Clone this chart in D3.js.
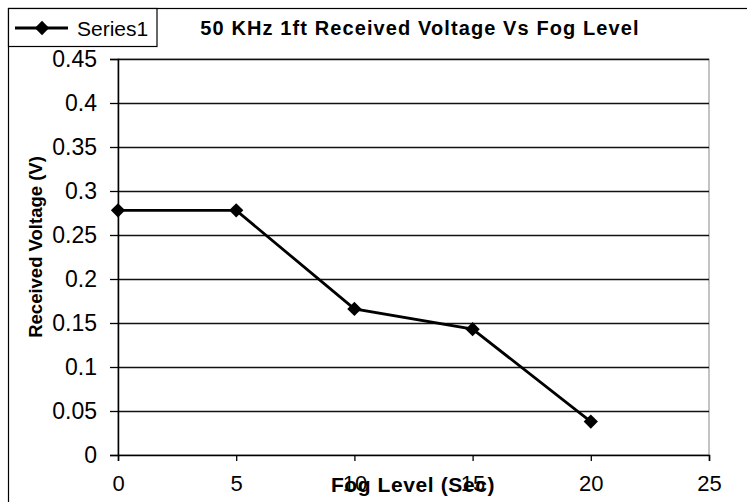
<!DOCTYPE html>
<html>
<head>
<meta charset="utf-8">
<script src="https://cdn.jsdelivr.net/npm/d3@7"></script>
<style>
  html, body { margin: 0; padding: 0; background: #fff; }
  svg { display: block; font-family: "Liberation Sans", Arial, sans-serif; }
</style>
</head>
<body>
<svg id="chart" width="747" height="502"></svg>
<script>
// ---- data ----
const fogLevels = [0, 5, 10, 15, 20];
const voltages = [0.278, 0.278, 0.166, 0.143, 0.038];
const xTicks = [0, 5, 10, 15, 20, 25];
const yTicks = [0, 0.05, 0.1, 0.15, 0.2, 0.25, 0.3, 0.35, 0.4, 0.45];
const yTickLabels = ["0", "0.05", "0.1", "0.15", "0.2", "0.25", "0.3", "0.35", "0.4", "0.45"];
const seriesName = "Series1";
const chartTitle = "50 KHz 1ft Received Voltage Vs Fog Level";
const xTitle = "Fog Level (Sec)";
const yTitle = "Received Voltage (V)";

const svg = d3.select("#chart");
const plot = { left: 118, right: 709, top: 59, bottom: 455 };

const x = d3.scaleLinear().domain([0, 25]).range([plot.left, plot.right]);
const y = d3.scaleLinear().domain([0, 0.45]).range([plot.bottom, plot.top]);

// outer chart frame (extends past the picture on right/bottom)
svg.append("rect")
  .attr("x", 8.5).attr("y", 8.5).attr("width", 900).attr("height", 700)
  .attr("fill", "none").attr("stroke", "#000").attr("stroke-width", 1.2);

// plot area border
svg.append("rect")
  .attr("x", plot.left).attr("y", plot.top)
  .attr("width", plot.right - plot.left).attr("height", plot.bottom - plot.top)
  .attr("fill", "none").attr("stroke", "#888").attr("stroke-width", 1);

// gridlines
svg.append("g")
  .attr("transform", `translate(${plot.left},0)`)
  .call(d3.axisLeft(y).tickValues(yTicks.slice(1)).tickSize(-(plot.right - plot.left)).tickFormat(""))
  .call(g => g.select(".domain").remove())
  .call(g => g.selectAll("line").attr("stroke", "#111").attr("stroke-width", 1.5));

// y axis
const yAxis = svg.append("g")
  .attr("transform", `translate(${plot.left},0)`)
  .call(d3.axisLeft(y).tickValues(yTicks).tickSize(8).tickPadding(13)
    .tickFormat((d, i) => yTickLabels[i]));
yAxis.select(".domain").attr("stroke", "#000").attr("stroke-width", 1.5);
yAxis.selectAll("line").attr("stroke", "#000").attr("stroke-width", 1.3);
yAxis.selectAll("text").attr("font-size", 23).attr("fill", "#000")
  .attr("font-family", "Liberation Sans, Arial, sans-serif");

// x axis
const xAxis = svg.append("g")
  .attr("transform", `translate(0,${plot.bottom})`)
  .call(d3.axisBottom(x).tickValues(xTicks).tickSize(6).tickPadding(14).tickFormat(d3.format("d")));
xAxis.select(".domain").attr("stroke", "#000").attr("stroke-width", 1.5);
xAxis.selectAll("line").attr("stroke", "#000").attr("stroke-width", 1.3);
xAxis.selectAll("text").attr("font-size", 22).attr("fill", "#000")
  .attr("font-family", "Liberation Sans, Arial, sans-serif");

// data line
const pts = fogLevels.map((f, i) => [f, voltages[i]]);
svg.append("path")
  .datum(pts)
  .attr("fill", "none").attr("stroke", "#000").attr("stroke-width", 2.8)
  .attr("d", d3.line().x(d => x(d[0])).y(d => y(d[1])));

const diamond = d3.symbol().type(d3.symbolDiamond2).size(130);
svg.append("g").selectAll("path")
  .data(pts).join("path")
  .attr("transform", d => `translate(${x(d[0])},${y(d[1])})`)
  .attr("d", diamond)
  .attr("fill", "#000");

// title
svg.append("text")
  .attr("x", 420).attr("y", 35)
  .attr("text-anchor", "middle")
  .attr("font-size", 20).attr("font-weight", "bold")
  .attr("letter-spacing", 1.1)
  .text(chartTitle);

// axis titles (overlap with tick labels 10/15 as in the reference)
svg.append("text")
  .attr("x", 413).attr("y", 492)
  .attr("text-anchor", "middle")
  .attr("font-size", 21).attr("font-weight", "bold")
  .attr("letter-spacing", 0.6)
  .text(xTitle);

svg.append("text")
  .attr("transform", "translate(42,247) rotate(-90)")
  .attr("text-anchor", "middle")
  .attr("font-size", 18.5).attr("font-weight", "bold")
  .text(yTitle);

// legend
const lg = svg.append("g");
lg.append("rect")
  .attr("x", 8.5).attr("y", 8.5).attr("width", 148.5).attr("height", 38)
  .attr("fill", "#fff").attr("stroke", "#000").attr("stroke-width", 1.2);
lg.append("line")
  .attr("x1", 15).attr("x2", 68).attr("y1", 28).attr("y2", 28)
  .attr("stroke", "#000").attr("stroke-width", 2.8);
lg.append("path")
  .attr("transform", "translate(42,28)")
  .attr("d", diamond).attr("fill", "#000");
lg.append("text")
  .attr("x", 77).attr("y", 36)
  .attr("font-size", 21)
  .text(seriesName);
</script>
</body>
</html>
